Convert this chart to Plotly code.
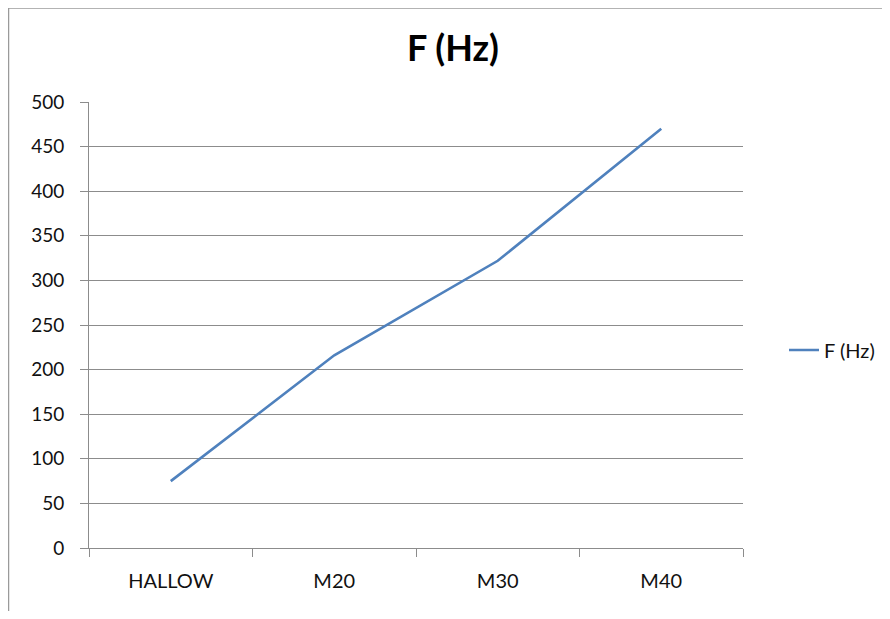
import plotly.graph_objects as go

categories = ["HALLOW", "M20", "M30", "M40"]
values = [75, 216, 322, 470]
series_name = "F (Hz)"
title_text = "F (Hz)"
y_ticks = [0, 50, 100, 150, 200, 250, 300, 350, 400, 450, 500]

# page has an 8px body margin; figure coordinates = page coordinates - 8
OFF = 8
W, H = 874, 603
L, R, T, B = 89 - OFF, W - (743 - OFF), 102 - OFF, H - (548 - OFF)
pw, ph = W - L - R, H - T - B

def px_x(x):
    return (x - OFF - L) / pw

def px_y(y):
    return (H - B - (y - OFF)) / ph

fig = go.Figure()
fig.add_trace(go.Scatter(
    x=categories, y=values, mode="lines", name=series_name,
    line=dict(color="#4F81BD", width=2.6),
))

font_family = "Lato, 'Open Sans', sans-serif"
grid_col = "#8c8c8c"

fig.update_layout(
    width=W, height=H,
    margin=dict(l=L, r=R, t=T, b=B, autoexpand=False),
    paper_bgcolor="white", plot_bgcolor="white",
    title=dict(text="<b>" + title_text + "</b>", x=px_x(453), xref="paper",
               xanchor="center", y=1 - (48 - OFF) / H, yanchor="middle",
               font=dict(family=font_family, size=36, color="#000")),
    showlegend=True,
    legend=dict(x=px_x(784), y=px_y(350), xanchor="left", yanchor="middle",
                font=dict(family=font_family, size=20, color="#111"),
                bgcolor="rgba(0,0,0,0)"),
    font=dict(family=font_family, size=19, color="#111"),
    xaxis=dict(
        type="category", showgrid=False, showline=True, linecolor=grid_col, linewidth=1,
        ticks="outside", ticklen=8, tickcolor=grid_col, tickson="boundaries",
        range=[-0.5, 3.5], ticklabelstandoff=15,
        tickfont=dict(family=font_family, size=20, color="#111"),
    ),
    yaxis=dict(
        range=[0, 500], tickvals=y_ticks, showgrid=True, gridcolor=grid_col, gridwidth=1,
        showline=True, linecolor=grid_col, linewidth=1, ticks="outside", ticklen=8,
        tickcolor=grid_col, zeroline=False, ticklabelstandoff=12,
        tickfont=dict(family=font_family, size=19, color="#111"),
    ),
    shapes=[
        dict(type="rect", xref="paper", yref="paper",
             x0=px_x(8.5), x1=px_x(900), y0=px_y(640), y1=px_y(8),
             line=dict(color="#9a9a9a", width=1.5), fillcolor="rgba(0,0,0,0)", layer="below"),
    ],
)

fig.write_html("out.html")
